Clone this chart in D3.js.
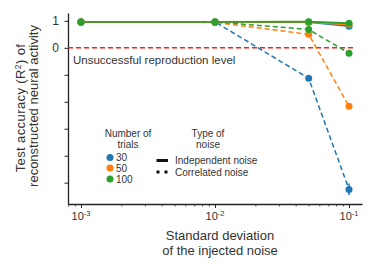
<!DOCTYPE html>
<html>
<head>
<meta charset="utf-8">
<script src="https://cdn.jsdelivr.net/npm/d3@7"></script>
<style>
  body { margin: 0; background: #fff; }
  text { font-family: "Liberation Sans", Arial, sans-serif; fill: #333; }
</style>
</head>
<body>
<script>
// noise levels (std of injected noise)
const noiseLevels = [0.001, 0.01, 0.05, 0.1];
const trialCounts = ['30', '50', '100'];
const trialColors = ['#1f77b4', '#ff7f0e', '#2ca02c'];

// R^2 per trial count, independent noise
const indep30 = [0.96, 0.96, 0.95, 0.80];
const indep50 = [0.96, 0.96, 0.95, 0.86];
const indep100 = [0.96, 0.96, 0.97, 0.91];

// R^2 per trial count, correlated noise
const corr30 = [0.96, 0.96, -1.13, -5.25];
const corr50 = [0.96, 0.94, 0.50, -2.17];
const corr100 = [0.96, 0.96, 0.68, -0.20];
const corr30Err = [0, 0, 0.03, 0.22];

const yTicks = [1, 0, -1, -2, -3, -4, -5];
const yTickLabels = ['1', '0', '', '', '', '', ''];
const xMajor = [0.001, 0.01, 0.1];
const xExp = ['-3', '-2', '-1'];

const W = 382, H = 272;
const svg = d3.select('body').append('svg')
    .attr('width', W)
    .attr('height', H);

const x = d3.scaleLog().domain([0.0008, 0.125]).range([68, 362]);
const y = d3.scaleLinear().domain([-5.79, 1.29]).range([204, 13]);

// axes
const xMinor = [];
for (let e = -4; e <= -1; e++) {
    for (let m = 1; m <= 9; m++) {
        const v = m * Math.pow(10, e);
        if (v >= 0.0008 && v <= 0.125 && !xMajor.includes(+v.toPrecision(3))) xMinor.push(v);
    }
}

const gx = svg.append('g').attr('transform', 'translate(0,204)');
gx.call(d3.axisBottom(x).tickValues(xMinor).tickSize(2.5).tickFormat(''));
gx.call(g => g.selectAll('.tick line').attr('stroke', '#333').attr('stroke-width', 0.8));
const gxMaj = svg.append('g').attr('transform', 'translate(0,204)')
    .call(d3.axisBottom(x).tickValues(xMajor).tickSize(4).tickSizeOuter(0).tickFormat(''));
gxMaj.select('.domain').attr('stroke', '#222').attr('stroke-width', 1.3);
gxMaj.selectAll('.tick line').attr('stroke', '#222').attr('stroke-width', 1);
gx.select('.domain').remove();

const xl = svg.append('g');
xMajor.forEach((v, i) => {
    const t = xl.append('text')
        .attr('x', x(v))
        .attr('y', 220)
        .attr('text-anchor', 'middle')
        .style('font-size', '11px');
    t.append('tspan').text('10');
    t.append('tspan').attr('dy', -4).style('font-size', '7.5px').text(xExp[i]);
});

const gy = svg.append('g').attr('transform', 'translate(68,0)')
    .call(d3.axisLeft(y).tickValues(yTicks).tickSize(3.5).tickSizeOuter(0)
        .tickFormat((d, i) => yTickLabels[i]));
gy.select('.domain').attr('stroke', '#222').attr('stroke-width', 1.3);
gy.selectAll('.tick line').attr('stroke', '#222');
gy.selectAll('.tick text').attr('x', -9).style('font-size', '12px').attr('fill', '#333')
    .style('font-family', '"Liberation Sans", Arial, sans-serif');

// unsuccessful level
svg.append('line')
    .attr('x1', 68).attr('x2', 355)
    .attr('y1', y(0)).attr('y2', y(0))
    .attr('stroke', '#f02222')
    .attr('stroke-width', 1.4)
    .attr('stroke-dasharray', '5,3');
svg.append('text')
    .attr('x', 73).attr('y', 64)
    .style('font-size', '11.5px')
    .text('Unsuccessful reproduction level');

// series
const line = d3.line().x((d, i) => x(noiseLevels[i])).y(d => y(d));
const corrSeries = [corr30, corr50, corr100];
const indepSeries = [indep30, indep50, indep100];

corrSeries.forEach((s, k) => {
    svg.append('path').datum(s)
        .attr('fill', 'none')
        .attr('stroke', trialColors[k])
        .attr('stroke-width', 1.5)
        .attr('stroke-dasharray', '5,3')
        .attr('d', line);
});
indepSeries.forEach((s, k) => {
    svg.append('path').datum(s)
        .attr('fill', 'none')
        .attr('stroke', trialColors[k])
        .attr('stroke-width', 1.8)
        .attr('d', line);
});

// error bars (30 trials, correlated)
svg.append('g').selectAll('line').data(corr30).join('line')
    .attr('x1', (d, i) => x(noiseLevels[i]))
    .attr('x2', (d, i) => x(noiseLevels[i]))
    .attr('y1', (d, i) => y(d - corr30Err[i]))
    .attr('y2', (d, i) => y(d + corr30Err[i]))
    .attr('stroke', trialColors[0])
    .attr('stroke-width', 1.5);

[...corrSeries, ...indepSeries].forEach((s, j) => {
    svg.append('g').selectAll('circle').data(s).join('circle')
        .attr('cx', (d, i) => x(noiseLevels[i]))
        .attr('cy', d => y(d))
        .attr('r', 3.5)
        .attr('fill', trialColors[j % 3]);
});

// axis titles
const yt = svg.append('text')
    .attr('transform', 'translate(0,108) rotate(-90)')
    .attr('text-anchor', 'middle')
    .style('font-size', '13px')
    .style('letter-spacing', '0.4px');
yt.append('tspan').attr('x', 0).attr('y', 25).text('Test accuracy (R');
yt.append('tspan').attr('dy', -4.5).style('font-size', '8.5px').text('2');
yt.append('tspan').attr('dy', 4.5).text(') of');
svg.append('text')
    .attr('transform', 'translate(37.5,106) rotate(-90)')
    .attr('text-anchor', 'middle')
    .style('font-size', '13px')
    .text('reconstructed neural activity');

svg.append('text').attr('x', 220).attr('y', 240)
    .attr('text-anchor', 'middle').style('font-size', '13px')
    .text('Standard deviation');
svg.append('text').attr('x', 220).attr('y', 254.5)
    .attr('text-anchor', 'middle').style('font-size', '13px')
    .text('of the injected noise');

// legend: trials
const leg = svg.append('g').style('font-size', '10px');
leg.append('text').attr('x', 128).attr('y', 136.5).attr('text-anchor', 'middle').text('Number of');
leg.append('text').attr('x', 128).attr('y', 147.5).attr('text-anchor', 'middle').text('trials');
const legY = [157.5, 168, 179];
trialCounts.forEach((t, i) => {
    leg.append('circle').attr('cx', 110).attr('cy', legY[i]).attr('r', 3.5).attr('fill', trialColors[i]);
    leg.append('text').attr('x', 116).attr('y', legY[i] + 3.5).text(t);
});

// legend: noise type
leg.append('text').attr('x', 208).attr('y', 136.5).attr('text-anchor', 'middle').text('Type of');
leg.append('text').attr('x', 208).attr('y', 147.5).attr('text-anchor', 'middle').text('noise');
leg.append('line').attr('x1', 156.5).attr('x2', 168).attr('y1', 160.5).attr('y2', 160.5)
    .attr('stroke', '#111').attr('stroke-width', 3);
leg.append('line').attr('x1', 156.5).attr('x2', 168).attr('y1', 172).attr('y2', 172)
    .attr('stroke', '#111').attr('stroke-width', 3).attr('stroke-dasharray', '3,5');
leg.append('text').attr('x', 175).attr('y', 164).text('Independent noise');
leg.append('text').attr('x', 175).attr('y', 175.5).text('Correlated noise');
</script>
</body>
</html>
